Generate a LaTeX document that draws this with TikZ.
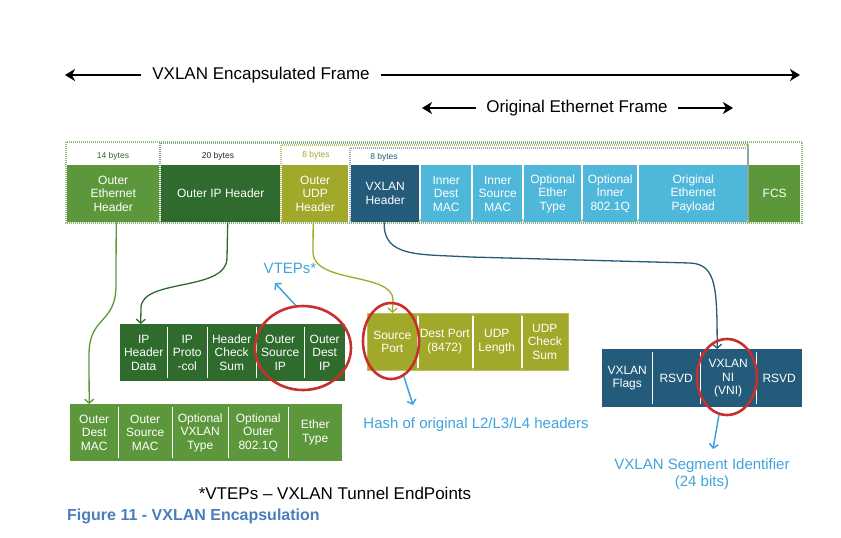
\documentclass[tikz,border=0pt]{standalone}
\usepackage{fontspec}
\setmainfont{Liberation Sans}
\usetikzlibrary{arrows.meta,shapes.geometric}
\definecolor{lgreen}{HTML}{5C983B}
\definecolor{dgreen}{HTML}{2F6B2D}
\definecolor{olive}{HTML}{A2A829}
\definecolor{teal}{HTML}{245B7A}
\definecolor{lblue}{HTML}{4FB8DA}
\definecolor{labblue}{HTML}{3FA3DD}
\definecolor{ringred}{HTML}{C7302C}
\definecolor{capblue}{HTML}{4A7EBB}
\tikzset{
  cellbox/.style={anchor=north west, inner sep=0pt, text=white, align=center,
    font=\fontsize{12}{13.7}\selectfont},
  topcell/.style={cellbox, minimum height=57pt},
  lowcell/.style={cellbox, minimum height=57pt},
  sepline/.style={white, line width=1.8pt},
  bigarrow/.style={line width=2.6pt, -{Stealth[length=10pt,width=12pt,inset=3pt]}},
  bigtext/.style={font=\fontsize{17}{20}\selectfont, inner xsep=11pt, inner ysep=0pt},
  bytes/.style={font=\fontsize{8.5}{9}\selectfont, inner sep=0pt},
  framebox/.style={line width=1.2pt, dash pattern=on 1pt off 1pt},
  link/.style={line width=1.3pt, -{Straight Barb[length=4pt,width=9pt]}},
  ring/.style={ellipse, draw=ringred, line width=2.6pt, inner sep=0pt},
  bluearrow/.style={labblue, line width=1.5pt, -{Straight Barb[length=4pt,width=9pt]}},
  bluetext/.style={text=labblue, font=\fontsize{15}{17}\selectfont, align=center, inner sep=0pt},
}
\begin{document}
\begin{tikzpicture}[x=1pt,y=-1pt]
\useasboundingbox (0,0) rectangle (841,538);

% top arrows
\node[bigtext] (encap) at (261,75) {VXLAN Encapsulated Frame};
\coordinate (eL) at (65,75);
\coordinate (eR) at (800,75);
\draw[bigarrow] (encap.west) -- (eL);
\draw[bigarrow] (encap.east) -- (eR);
\node[bigtext, inner xsep=10pt] (orig) at (577,108) {Original Ethernet Frame};
\coordinate (oL) at (422,108);
\coordinate (oR) at (733,108);
\draw[bigarrow] (orig.west) -- (oL);
\draw[bigarrow] (orig.east) -- (oR);

% dashed frames
\draw[framebox, draw=lgreen!70] (66,142) rectangle (802,223);
\draw[framebox, draw=dgreen!60] (160,143) rectangle (748,222);
\draw[framebox, draw=olive!70] (281,145) rectangle (748,221);
\draw[framebox, draw=teal!50] (350,148) rectangle (748,220);

% byte labels
\node[bytes, text=dgreen] (b14) at (113,156) {14 bytes};
\node[bytes, text=black!85] (b20) at (218,156) {20 bytes};
\node[bytes, text=olive] (b8a) at (316,155) {8 bytes};
\node[bytes, text=teal] (b8b) at (384,157) {8 bytes};

% top row cells
\node[topcell, fill=lgreen, minimum width=92pt] (oeth) at (67,165) {Outer\\Ethernet\\Header};
\node[topcell, fill=dgreen, minimum width=119pt] (oip) at (161,165) {Outer IP Header};
\node[topcell, fill=olive, minimum width=66pt] (oudp) at (282,165) {Outer\\UDP\\Header};
\node[topcell, fill=teal, minimum width=68pt] (vxh) at (351,165) {VXLAN\\Header};
\node[topcell, fill=lblue, minimum width=50pt] (idmac) at (421,165) {Inner\\Dest\\MAC};
\node[topcell, fill=lblue, minimum width=49pt] (ismac) at (473,165) {Inner\\Source\\MAC};
\node[topcell, fill=lblue, minimum width=57pt] (oet) at (524,165) {Optional\\Ether\\Type};
\node[topcell, fill=lblue, minimum width=54pt] (oinq) at (583,165) {Optional\\Inner\\802.1Q};
\node[topcell, fill=lblue, minimum width=108pt] (pay) at (639,165) {Original\\Ethernet\\Payload};
\node[topcell, fill=lgreen, minimum width=51pt] (fcs) at (749,165) {FCS};

% IP row
\node[lowcell, fill=dgreen, minimum width=47pt] (iphd) at (120,324) {IP\\Header\\Data};
\node[lowcell, fill=dgreen, minimum width=40pt] (ipproto) at (167,324) {IP\\Proto\\-col};
\node[lowcell, fill=dgreen, minimum width=49pt] (ipcs) at (207,324) {Header\\Check\\Sum};
\node[lowcell, fill=dgreen, minimum width=48pt] (ipsrc) at (256,324) {Outer\\Source\\IP};
\node[lowcell, fill=dgreen, minimum width=41pt] (ipdst) at (304,324) {Outer\\Dest\\IP};
\foreach \a in {iphd,ipproto,ipcs,ipsrc}
  \draw[sepline] ([yshift=-3pt]\a.north east) -- ([yshift=3pt]\a.south east);

% UDP row
\node[lowcell, fill=olive, minimum width=50pt, draw=olive!75!white, line width=0.6pt] (srcport) at (367,313) {Source\\Port};
\node[lowcell, fill=olive, minimum width=55pt, draw=olive!75!white, line width=0.6pt] (dstport) at (417,313) {Dest Port\\(8472)};
\node[lowcell, fill=olive, minimum width=49pt, draw=olive!75!white, line width=0.6pt] (udplen) at (472,313) {UDP\\Length};
\node[lowcell, fill=olive, minimum width=47pt, draw=olive!75!white, line width=0.6pt] (udpcs) at (521,313) {UDP\\Check\\Sum};
\foreach \a in {srcport,dstport,udplen}
  \draw[sepline] ([yshift=-3pt]\a.north east) -- ([yshift=3pt]\a.south east);

% VXLAN row
\node[cellbox, minimum height=58pt, fill=teal, minimum width=50pt] (vflags) at (602,349) {VXLAN\\Flags};
\node[cellbox, minimum height=58pt, fill=teal, minimum width=48pt] (rsvd1) at (652,349) {RSVD};
\node[cellbox, minimum height=58pt, fill=teal, minimum width=56pt] (vni) at (700,349) {VXLAN\\NI\\(VNI)};
\node[cellbox, minimum height=58pt, fill=teal, minimum width=46pt] (rsvd2) at (756,349) {RSVD};
\foreach \a in {vflags,rsvd1,vni}
  \draw[sepline] ([yshift=-3pt]\a.north east) -- ([yshift=3pt]\a.south east);

% Ethernet row
\node[lowcell, fill=lgreen, minimum width=48pt] (odmac) at (70,404) {Outer\\Dest\\MAC};
\node[lowcell, fill=lgreen, minimum width=54pt] (osmac) at (118,404) {Outer\\Source\\MAC};
\node[lowcell, fill=lgreen, minimum width=56pt] (ovt) at (172,404) {Optional\\VXLAN\\Type};
\node[lowcell, fill=lgreen, minimum width=60pt] (ooq) at (228,404) {Optional\\Outer\\802.1Q};
\node[lowcell, fill=lgreen, minimum width=54pt] (oetype) at (288,404) {Ether\\Type};
\foreach \a in {odmac,osmac,ovt,ooq}
  \draw[sepline] ([yshift=-3pt]\a.north east) -- ([yshift=3pt]\a.south east);

% connectors
\draw[link, lgreen] ([xshift=3pt]oeth.south) -- (116,285) .. controls (116,325) and (89,315) .. (89,355) -- ([xshift=-5pt]odmac.north);
\draw[link, dgreen] ([xshift=7pt]oip.south) -- (227,258) .. controls (227,292) and (141,278) .. (141,308) -- ([xshift=-3pt]iphd.north);
\draw[link, olive] ([xshift=-2pt]oudp.south) -- (313,252) .. controls (313,284) and (393,272) .. (393,300) -- (srcport.north);
\draw[link, teal] ([xshift=-1pt]vxh.south) .. controls (383,258) and (420,254) .. (470,257) -- (690,263) .. controls (717,264) and (717,290) .. ([xshift=-11pt]vni.north);

% red rings
\node[ring, minimum width=96pt, minimum height=84pt] (ring1) at (303,348) {};
\node[ring, minimum width=56pt, minimum height=76pt] (ring2) at (391,341) {};
\node[ring, minimum width=60pt, minimum height=76pt] (ring3) at (727,377) {};

% blue labels
\node[bluetext] (vteps) at (290,268) {VTEPs*};
\coordinate (vtip) at (275,283);
\draw[bluearrow] (ring1.100) -- (vtip);
\node[bluetext] (hash) at (476,425) {Hash of original L2/L3/L4 headers};
\coordinate (htip) at (413,405);
\draw[bluearrow] (ring2.290) -- (htip);
\node[bluetext] (vsid) at (702,474) {VXLAN Segment Identifier\\(24 bits)};
\coordinate (stip) at (713,449);
\draw[bluearrow] (ring3.258) -- (stip);

% footer
\node[font=\fontsize{17}{20}\selectfont, inner sep=0pt] (foot) at (335,493) {*VTEPs – VXLAN Tunnel EndPoints};
\node[font=\bfseries\fontsize{16}{19}\selectfont, text=capblue, anchor=west, inner sep=0pt] (cap) at (67,516) {Figure 11 - VXLAN Encapsulation};
\end{tikzpicture}
\end{document}
